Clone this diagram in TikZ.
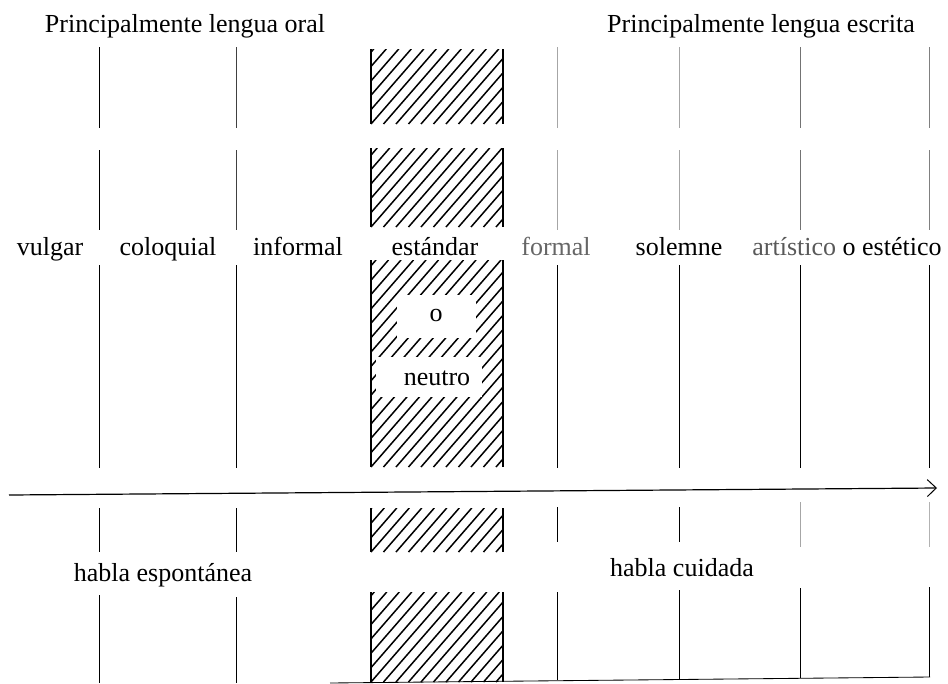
\documentclass[tikz,border=0pt]{standalone}
\usepackage{fontspec}
\setmainfont{Liberation Serif}
\usetikzlibrary{arrows.meta}
\newcommand\hatchcolumn[2]{%
  \begin{scope}
    \clip (371,#1) rectangle (503,#2);
    \foreach \xs in {171,183.5,...,510}
      \draw[hatchline] (\xs,#2) -- ({\xs+(#2-#1)/1.15},#1);
  \end{scope}
  \draw[hatchborder] (371,#1) -- (371,#2);
  \draw[hatchborder] (503,#1) -- (503,#2);
}
\begin{document}
\begin{tikzpicture}[x=1pt,y=-1pt,
  vline/.style={line width=0.85pt},
  hatchborder/.style={line width=1.4pt},
  hatchline/.style={line width=1.5pt},
  lbl/.style={anchor=base, inner sep=0pt, font=\fontsize{26}{30}\selectfont}]
\useasboundingbox (0,0) rectangle (948,683);

% hatched column
\hatchcolumn{49}{124}
\hatchcolumn{148}{227}
\hatchcolumn{260}{467}
\hatchcolumn{508}{552}
\hatchcolumn{592}{682}
\fill[white] (397,295) rectangle (476,338);
\fill[white] (376,357) rectangle (482,397);

% top vertical segments
\foreach \x/\c in {99/black, 236/black!75, 557/black!35, 679/black!35, 800/black!55, 929/black!50} {
  \draw[vline, \c] (\x,47) -- (\x,128);
  \draw[vline, \c] (\x,150) -- (\x,230);
}
% middle segments
\foreach \x in {99,236,557,679,800,929}
  \draw[vline] (\x,265) -- (\x,468);
% below the arrow
\draw[vline] (99,508) -- (99,552);
\draw[vline] (236,508) -- (236,552);
\draw[vline] (557,507) -- (557,542);
\draw[vline] (679,507) -- (679,542);
\draw[vline, black!35] (800,502) -- (800,547);
\draw[vline, black!30] (929,502) -- (929,547);
% lower segments
\draw[vline] (99,595) -- (99,683);
\draw[vline] (236,597) -- (236,683);
\draw[vline] (557,592) -- (557,680);
\draw[vline] (679,590) -- (679,680);
\draw[vline] (800,588) -- (800,678);
\draw[vline] (929,587) -- (929,677);
\coordinate (bl) at (330,683);
\coordinate (br) at (930,677);
\draw[vline] (bl) -- (br);

% arrow
\coordinate (as) at (9,495);
\coordinate (ae) at (937,488);
\draw[line width=1.2pt, -{Straight Barb[length=9pt,width=17pt,line width=1pt]}] (as) -- (ae);

% texts
\node[lbl] (oral) at (185,32) {Principalmente lengua oral};
\node[lbl] (escrita) at (761,32) {Principalmente lengua escrita};
\node[lbl] (vulgar) at (50,255) {vulgar};
\node[lbl] (coloquial) at (168,255) {coloquial};
\node[lbl] (informal) at (298,255) {informal};
\node[lbl] (estandar) at (435,255) {estándar};
\node[lbl, text=black!60] (formal) at (556,255) {formal};
\node[lbl] (solemne) at (679,255) {solemne};
\node[lbl] (artistico) at (847,255) {{\color{black!65}artístico} o estético};
\node[lbl] (o) at (436,321) {o};
\node[lbl] (neutro) at (437,385) {neutro};
\node[lbl] (espontanea) at (163,581) {habla espontánea};
\node[lbl] (cuidada) at (682,576) {habla cuidada};
\end{tikzpicture}
\end{document}
